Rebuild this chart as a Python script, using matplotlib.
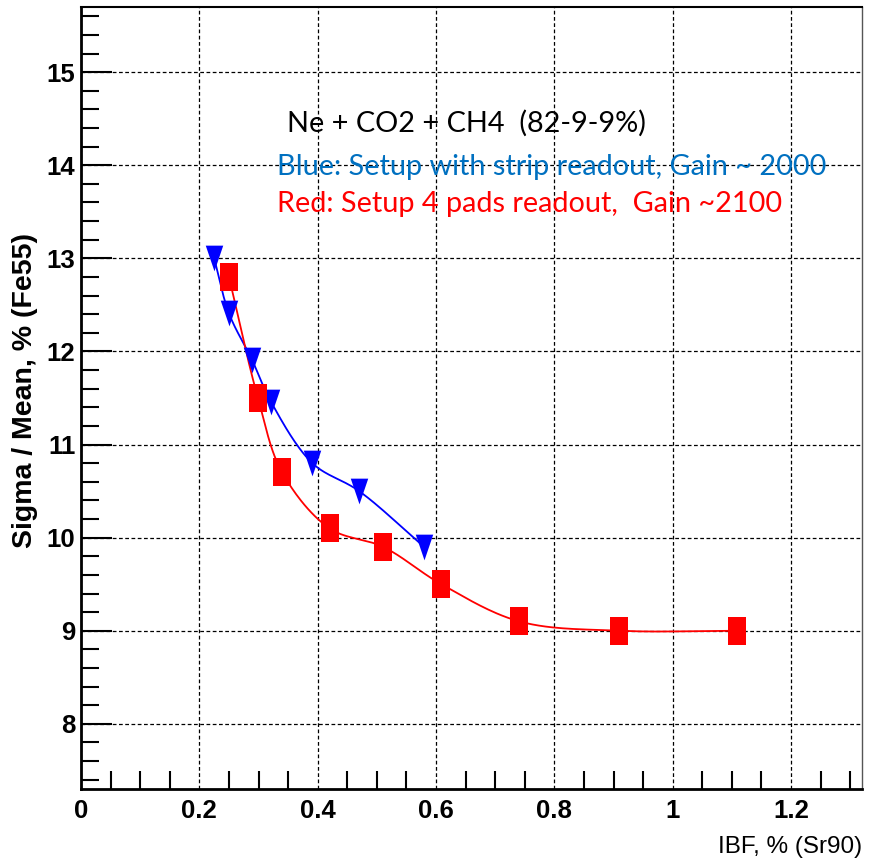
import numpy as np
import matplotlib
matplotlib.use("Agg")
import matplotlib.pyplot as plt
from matplotlib.ticker import MultipleLocator

# strip readout (blue triangles)
blue_x = [0.225, 0.250, 0.289, 0.321, 0.391, 0.470, 0.580]
blue_y = [13.00, 12.41, 11.91, 11.46, 10.80, 10.50, 9.90]

# 4 pads readout (red squares)
red_x = [0.250, 0.299, 0.340, 0.420, 0.511, 0.609, 0.741, 0.910, 1.109]
red_y = [12.80, 11.50, 10.70, 10.10, 9.90, 9.50, 9.10, 9.00, 9.00]

title_txt = "Ne + CO2 + CH4  (82-9-9%)"
blue_txt = "Blue: Setup with strip readout, Gain ~ 2000"
red_txt = "Red: Setup 4 pads readout,  Gain ~2100"

XMIN, XMAX = 0.0, 1.32
YMIN, YMAX = 7.3, 15.7

num_font = ["Liberation Sans Narrow", "Liberation Sans", "DejaVu Sans"]
txt_font = ["Lato", "DejaVu Sans"]


def smooth(xs, ys, sx, sy, n=30):
    # centripetal catmull-rom through the points, done in (scaled) pixel space
    p = np.column_stack([np.asarray(xs) * sx, np.asarray(ys) * sy])
    p = np.vstack([2 * p[0] - p[1], p, 2 * p[-1] - p[-2]])
    out = []
    for i in range(1, len(p) - 2):
        p0, p1, p2, p3 = p[i - 1], p[i], p[i + 1], p[i + 2]
        t0 = 0.0
        t1 = t0 + np.linalg.norm(p1 - p0) ** 0.5
        t2 = t1 + np.linalg.norm(p2 - p1) ** 0.5
        t3 = t2 + np.linalg.norm(p3 - p2) ** 0.5
        t = np.linspace(t1, t2, n)[:, None]
        a1 = (t1 - t) / (t1 - t0) * p0 + (t - t0) / (t1 - t0) * p1
        a2 = (t2 - t) / (t2 - t1) * p1 + (t - t1) / (t2 - t1) * p2
        a3 = (t3 - t) / (t3 - t2) * p2 + (t - t2) / (t3 - t2) * p3
        b1 = (t2 - t) / (t2 - t0) * a1 + (t - t0) / (t2 - t0) * a2
        b2 = (t3 - t) / (t3 - t1) * a2 + (t - t1) / (t3 - t1) * a3
        c = (t2 - t) / (t2 - t1) * b1 + (t - t1) / (t2 - t1) * b2
        out.append(c)
    out = np.vstack(out)
    return out[:, 0] / sx, out[:, 1] / sy


fig = plt.figure(figsize=(8.77, 8.61), dpi=100)
ax = fig.add_axes([0.0924, 0.0836, 0.8905, 0.9083])
ax.set_xlim(XMIN, XMAX)
ax.set_ylim(YMIN, YMAX)

# pixels per data unit, for the curve smoothing
sx = 781 / (XMAX - XMIN)
sy = 782 / (YMAX - YMIN)

ax.grid(True, which="major", color="black", linestyle=(0, (3, 2)), linewidth=0.9)

cx, cy = smooth(blue_x, blue_y, sx, sy)
ax.plot(cx, cy, color="#0000ff", lw=1.3, zorder=3)
cx, cy = smooth(red_x, red_y, sx, sy)
ax.plot(cx, cy, color="#ff0000", lw=1.3, zorder=3)

tri = [(-0.68, 1.0), (0.68, 1.0), (0.0, -1.0), (-0.68, 1.0)]
sq = [(-0.7, -1.0), (0.7, -1.0), (0.7, 1.0), (-0.7, 1.0), (-0.7, -1.0)]
ax.plot(blue_x, blue_y, linestyle="none", marker=tri, markersize=18.5,
        color="#0000ff", markeredgewidth=0, zorder=4)
ax.plot(red_x, red_y, linestyle="none", marker=sq, markersize=19.5,
        color="#ff0000", markeredgewidth=0, zorder=4)

ax.xaxis.set_major_locator(MultipleLocator(0.2))
ax.xaxis.set_minor_locator(MultipleLocator(0.05))
ax.yaxis.set_major_locator(MultipleLocator(1))
ax.yaxis.set_minor_locator(MultipleLocator(0.2))
ax.tick_params(which="both", direction="in", top=False, right=False, color="black")
ax.tick_params(which="major", length=22, width=1.5)
ax.tick_params(which="minor", length=13, width=1.5)
ax.tick_params(axis="x", which="major", length=0)

for s in ["left", "bottom"]:
    ax.spines[s].set_linewidth(2.0)
ax.spines["top"].set_linewidth(1.5)
ax.spines["right"].set_linewidth(1.0)
ax.spines["right"].set_color("#555555")

xt = [0, 0.2, 0.4, 0.6, 0.8, 1, 1.2]
yt = [8, 9, 10, 11, 12, 13, 14, 15]
ax.set_xticks(xt)
ax.set_yticks(yt)
ax.set_xticklabels([("%g" % v) for v in xt], fontfamily=num_font,
                   fontweight="bold", fontsize=18.5)
ax.set_yticklabels([("%g" % v) for v in yt], fontfamily=num_font,
                   fontweight="bold", fontsize=18.5)
ax.tick_params(axis="x", pad=7)
ax.tick_params(axis="y", pad=4)

fig.text(0.983, 0.004, "IBF, % (Sr90)", ha="right", va="bottom",
         fontfamily=num_font, fontsize=17.5)
fig.text(0.0285, 0.547, "Sigma / Mean, % (Fe55)", rotation=90, ha="center",
         va="center", fontfamily=num_font, fontweight="bold", fontsize=20.5)

ax.text(0.348, 14.36, title_txt, ha="left", va="baseline", color="black",
        fontfamily=txt_font, fontsize=20.8)
ax.text(0.331, 13.89, blue_txt, ha="left", va="baseline", color="#0070c0",
        fontfamily=txt_font, fontsize=20.8)
ax.text(0.331, 13.50, red_txt, ha="left", va="baseline", color="#ff0000",
        fontfamily=txt_font, fontsize=20.8)

fig.savefig("out.png", dpi=100)
